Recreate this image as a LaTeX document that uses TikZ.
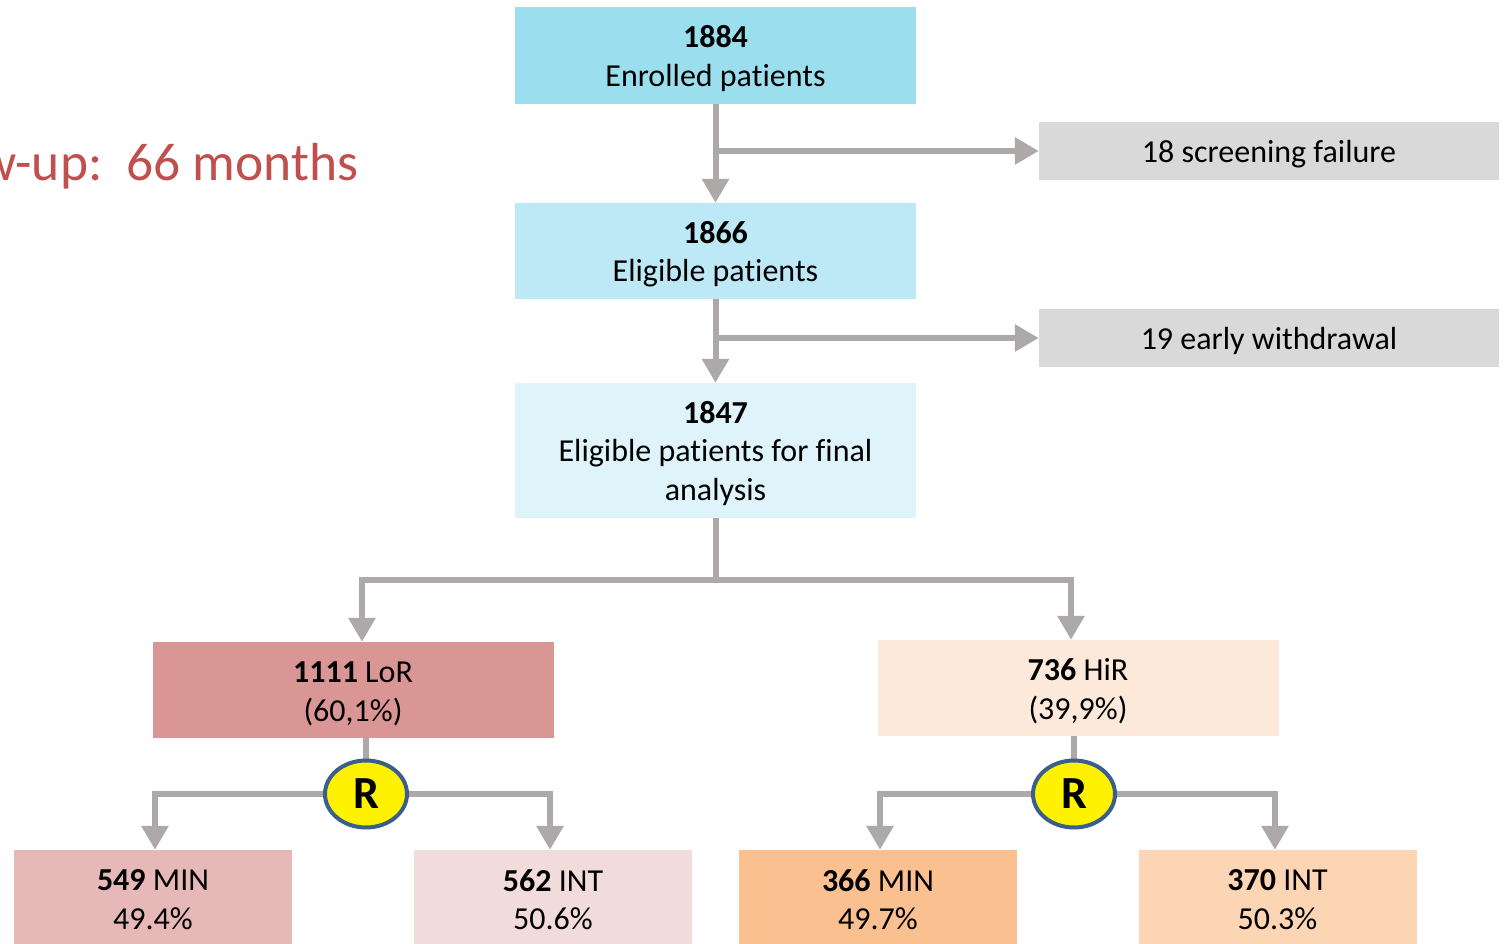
\documentclass[tikz,border=0pt]{standalone}
\usepackage{fontspec}
\setmainfont{Carlito}[Ligatures=NoCommon]
\usetikzlibrary{arrows.meta,shapes.geometric}
\definecolor{cA}{HTML}{9BDFEF}
\definecolor{cB}{HTML}{BDE8F5}
\definecolor{cC}{HTML}{DEF3FA}
\definecolor{cG}{HTML}{D9D9D9}
\definecolor{cLoR}{HTML}{DA9694}
\definecolor{cHiR}{HTML}{FDE9D9}
\definecolor{cMinA}{HTML}{E6B8B7}
\definecolor{cIntA}{HTML}{F2DCDB}
\definecolor{cMinB}{HTML}{FAC090}
\definecolor{cIntB}{HTML}{FCD5B4}
\definecolor{cArr}{HTML}{ADA9A9}
\definecolor{cRB}{HTML}{3A5F8B}
\definecolor{cRed}{HTML}{C0504D}
\newcommand\dn{\rule{0pt}{28pt}}
\begin{document}
\begin{tikzpicture}[x=1pt,y=-1pt,
  box/.style={rectangle, inner sep=0pt, minimum width=401pt, align=center, font=\fontsize{32}{38.5}\selectfont},
  gbox/.style={rectangle, inner sep=0pt, fill=cG, minimum width=460pt, minimum height=58pt, font=\fontsize{32}{38.5}\selectfont},
  sbox/.style={box, minimum width=278pt, minimum height=99pt},
  rnode/.style={ellipse, draw=cRB, line width=4pt, fill=yellow, minimum width=82pt, minimum height=67pt, inner sep=0pt, font=\fontsize{46}{50}\selectfont\bfseries},
  conn/.style={draw=cArr, line width=6pt},
  arr/.style={conn, -{Triangle[length=24pt,width=26pt]}}]
\useasboundingbox (0,0) rectangle (1505,944);
\clip (0,0) rectangle (1505,944);

\node[anchor=base east, text=cRed, font=\fontsize{53.5}{60}\selectfont] (fu) at (362,181) {w-up:\ \ 66 months};

\node[box, fill=cA, minimum height=97pt] (enr) at (715.5,55.5) {\dn\textbf{1884}\\Enrolled patients};
\node[box, fill=cB, minimum height=96pt] (eli) at (715.5,251) {\dn\textbf{1866}\\Eligible patients};
\node[box, fill=cC, minimum height=135pt] (fin) at (715.5,450.5) {\dn\textbf{1847}\\Eligible patients for final\\analysis};
\node[gbox] (scr) at (1269,151) {\dn 18 screening failure};
\node[gbox] (wd) at (1269,338) {\dn 19 early withdrawal};
\node[box, fill=cLoR, minimum height=96pt] (lor) at (353,690) {\dn\textbf{1111} LoR\\(60,1\%)};
\node[box, fill=cHiR, minimum height=96pt] (hir) at (1078,688) {\dn\textbf{736} HiR\\(39,9\%)};
\node[sbox, fill=cMinA] (mA) at (153,899.5) {\textbf{549} MIN\\49.4\%};
\node[sbox, fill=cIntA] (iA) at (553,899.5) {\textbf{562} INT\\50.6\%};
\node[sbox, fill=cMinB] (mB) at (878,899.5) {\textbf{366} MIN\\49.7\%};
\node[sbox, fill=cIntB] (iB) at (1277.5,899.5) {\textbf{370} INT\\50.3\%};

\coordinate (split) at (715.5,580);

\draw[arr] (enr.south) -- (eli.north);
\draw[arr] (enr.south |- scr.west) -- (scr.west);
\draw[arr] (eli.south) -- (fin.north);
\draw[arr] (eli.south |- wd.west) -- (wd.west);
\draw[conn] (fin.south) -- (split);
\draw[arr] (split) -| ([xshift=9pt]lor.north);
\draw[arr] (split) -| ([xshift=-7pt]hir.north);

\coordinate (rA) at (366,794);
\coordinate (rB) at (1074,794);
\draw[conn] (rA |- lor.south) -- (rA);
\draw[conn] (rB |- hir.south) -- (rB);
\draw[arr] (rA) -| ([xshift=2pt]mA.north);
\draw[arr] (rA) -| ([xshift=-3pt]iA.north);
\draw[arr] (rB) -| ([xshift=2pt]mB.north);
\draw[arr] (rB) -| ([xshift=-2.5pt]iB.north);
\node[rnode] (RA) at (rA) {R};
\node[rnode] (RB) at (rB) {R};
\end{tikzpicture}
\end{document}
